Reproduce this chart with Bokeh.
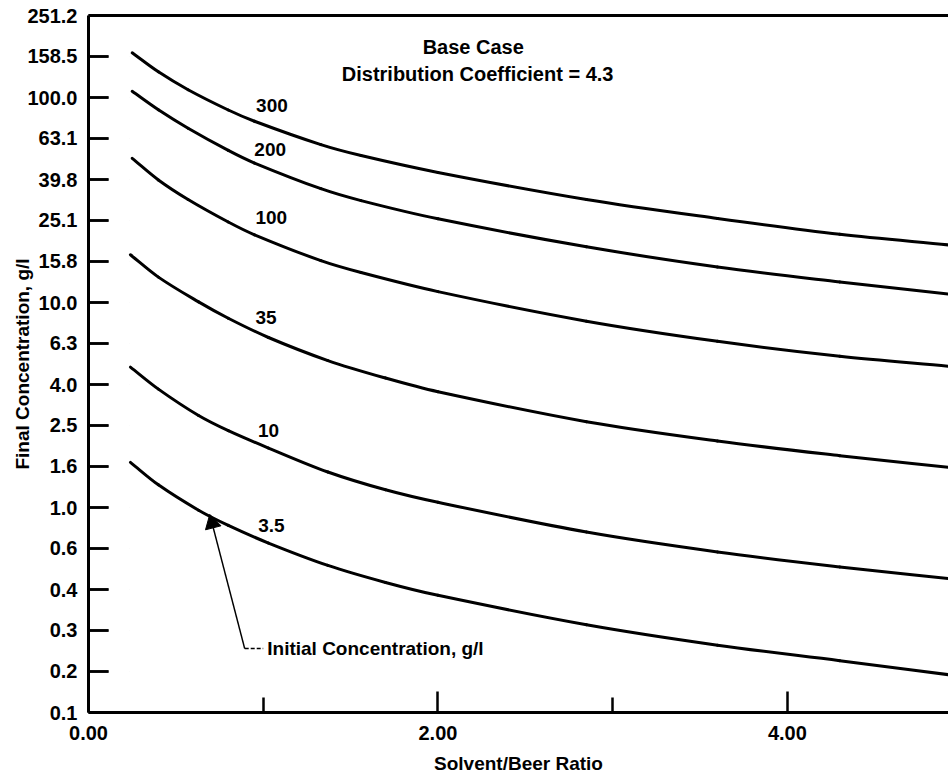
from bokeh.plotting import figure
from bokeh.models import (FixedTicker, LinearAxis, Label, Range1d, ColumnDataSource)
from bokeh.core.properties import value
from bokeh.embed import file_html
from bokeh.resources import INLINE
import math

# ---- data ----
ratio_upper = [0.25, 0.4, 0.57, 0.8, 0.95, 1.33, 1.56, 2.0, 2.85, 3.6, 4.3, 4.92]
conc_300 = [165.2, 133.4, 109.1, 86.9, 76.6, 58.9, 52.1, 43.1, 31.8, 25.7, 21.5, 19.1]
conc_200 = [107.2, 87.1, 70.8, 55.2, 47.9, 35.9, 31.4, 25.6, 18.7, 14.9, 12.6, 11.0]
conc_100 = [50.5, 39.6, 31.8, 24.7, 21.4, 16.0, 14.0, 11.3, 8.11, 6.47, 5.47, 4.89]

ratio_lower = [0.24, 0.4, 0.63, 0.8, 1.03, 1.37, 1.7, 2.0, 2.85, 3.6, 4.3, 4.92]
conc_35 = [17.1, 13.3, 10.07, 8.38, 6.75, 5.21, 4.28, 3.67, 2.62, 2.11, 1.79, 1.57]
conc_10 = [4.84, 3.78, 2.81, 2.37, 1.95, 1.49, 1.22, 1.06, 0.759, 0.607, 0.513, 0.450]
conc_3_5 = [1.66, 1.29, 0.970, 0.818, 0.671, 0.522, 0.431, 0.373, 0.268, 0.213, 0.179, 0.153]

curve_names = ["300", "200", "100", "35", "10", "3.5"]
label_x = [1.05, 1.04, 1.046, 1.016, 1.03, 1.047]
label_y = [91.9, 55.8, 26.0, 8.48, 2.38, 0.82]

y_tick_values = [0.1, 0.1585, 0.2512, 0.3981, 0.631, 1.0, 1.585, 2.512, 3.981,
                 6.31, 10.0, 15.85, 25.12, 39.81, 63.1, 100.0, 158.5, 251.2]
y_tick_labels = ["0.1", "0.2", "0.3", "0.4", "0.6", "1.0", "1.6", "2.5", "4.0",
                 "6.3", "10.0", "15.8", "25.1", "39.8", "63.1", "100.0", "158.5", "251.2"]
x_major_ticks = [0, 2, 4]
x_minor_ticks = [1, 3]
x_tick_labels = ["0.00", "2.00", "4.00"]

arrow_tail = (0.894, 0.205)
arrow_tip = (0.697, 0.905)

FONT = "Liberation Sans"
FS = "19px"
X_END = 4.922
PX_PER_X = 860 / X_END
PX_PER_DECADE = 699 / math.log10(251.2 / 0.1)

p = figure(width=948, height=776, y_axis_type="log",
           x_range=Range1d(0, X_END), y_range=Range1d(0.1, 251.2),
           output_backend="svg", toolbar_location=None,
           min_border_left=88, min_border_right=0, min_border_top=15,
           min_border_bottom=62)
p.outline_line_color = None
p.grid.visible = False
p.background_fill_color = "white"
p.border_fill_color = "white"

# inward y tick marks: a longer black stroke, whose outer part is masked in white
n_ticks = len(y_tick_values)
tick_len = 20 / PX_PER_X
mask_end = 0.232
p.segment(x0=[0.0] * n_ticks, y0=y_tick_values, x1=[mask_end] * n_ticks,
          y1=y_tick_values, line_color="black", line_width=2.5, line_cap="butt")
p.segment(x0=[tick_len] * n_ticks, y0=y_tick_values, x1=[mask_end + 0.003] * n_ticks,
          y1=y_tick_values, line_color="white", line_width=4.5, line_cap="butt")


def smooth_curve(xs, ys):
    """Draw a smooth curve through the read points as cubic Bezier pieces
    (Hermite tangents in x / log10(y) space, mapped by Bokeh's scales)."""
    ly = [math.log10(v) for v in ys]
    n = len(xs)
    slopes = []
    for i in range(n):
        a = max(i - 1, 0)
        b = min(i + 1, n - 1)
        slopes.append((ly[b] - ly[a]) / (xs[b] - xs[a]))
    d = dict(x0=[], y0=[], x1=[], y1=[], cx0=[], cy0=[], cx1=[], cy1=[])
    for i in range(n - 1):
        dx = xs[i + 1] - xs[i]
        d["x0"].append(xs[i]); d["y0"].append(ys[i])
        d["x1"].append(xs[i + 1]); d["y1"].append(ys[i + 1])
        d["cx0"].append(xs[i] + dx / 3)
        d["cy0"].append(10 ** (ly[i] + slopes[i] * dx / 3))
        d["cx1"].append(xs[i + 1] - dx / 3)
        d["cy1"].append(10 ** (ly[i + 1] - slopes[i + 1] * dx / 3))
    p.bezier(source=ColumnDataSource(d), x0="x0", y0="y0", x1="x1", y1="y1",
             cx0="cx0", cy0="cy0", cx1="cx1", cy1="cy1",
             line_color="black", line_width=3, line_cap="round")


series = [(ratio_upper, conc_300), (ratio_upper, conc_200), (ratio_upper, conc_100),
          (ratio_lower, conc_35), (ratio_lower, conc_10), (ratio_lower, conc_3_5)]
for xs, ys in series:
    smooth_curve(xs, ys)

src = ColumnDataSource(dict(x=label_x, y=label_y, t=curve_names))
p.text(x="x", y="y", text="t", source=src, text_font=value(FONT),
       text_font_size=FS, text_font_style="bold", text_align="center",
       text_baseline="middle", text_color="black")

xa = p.xaxis[0]
xa.ticker = FixedTicker(ticks=x_major_ticks, minor_ticks=x_minor_ticks)
xa.major_label_overrides = {t: l for t, l in zip(x_major_ticks, x_tick_labels)}
ya = p.yaxis[0]
ya.ticker = FixedTicker(ticks=y_tick_values, minor_ticks=[])
ya.major_label_overrides = {t: l for t, l in zip(y_tick_values, y_tick_labels)}

for ax in (xa, ya):
    ax.axis_line_width = 3
    ax.axis_line_color = "black"
    ax.major_tick_line_width = 2.5
    ax.major_tick_line_color = "black"
    ax.minor_tick_line_width = 2.5
    ax.minor_tick_line_color = "black"
    ax.major_tick_out = 0
    ax.minor_tick_out = 0
    ax.major_label_text_font = FONT
    ax.major_label_text_font_size = "20px"
    ax.major_label_text_font_style = "bold"
    ax.major_label_text_color = "black"
    ax.axis_label_text_font = FONT
    ax.axis_label_text_font_size = FS
    ax.axis_label_text_font_style = "bold"
    ax.axis_label_text_color = "black"

xa.major_tick_in = 21
xa.minor_tick_in = 15
xa.major_label_standoff = 13
xa.axis_label_standoff = 10
xa.axis_label = "Solvent/Beer Ratio"

ya.major_tick_in = 20
ya.minor_tick_in = 0
ya.major_label_standoff = 11
ya.axis_label_standoff = -9
ya.axis_label = "Final Concentration, g/l"

top = LinearAxis(ticker=FixedTicker(ticks=[]), axis_line_width=3,
                 axis_line_color="black", major_tick_in=0, major_tick_out=0,
                 minor_tick_in=0, minor_tick_out=0, major_label_standoff=0,
                 major_label_text_font_size="0px")
p.add_layout(top, "above")

p.add_layout(Label(x=2.202, y=176, text="Base Case", text_font=FONT,
                   text_font_size="20px", text_font_style="bold", text_align="center",
                   text_baseline="middle", text_color="black"))
p.add_layout(Label(x=2.227, y=129.7, text="Distribution Coefficient = 4.3",
                   text_font=FONT, text_font_size="20px", text_font_style="bold",
                   text_align="center", text_baseline="middle", text_color="black"))

# annotation pointer: shaft + triangular head
p.segment(x0=[arrow_tail[0]], y0=[arrow_tail[1]], x1=[arrow_tip[0]], y1=[arrow_tip[1]],
          line_color="black", line_width=1.5)
dx_px = (arrow_tip[0] - arrow_tail[0]) * PX_PER_X
dy_px = math.log10(arrow_tip[1] / arrow_tail[1]) * PX_PER_DECADE
length = math.hypot(dx_px, dy_px)
ux, uy = dx_px / length, dy_px / length
head = 16
back = head * 0.45
head_x = arrow_tip[0] - ux * back / PX_PER_X
head_y = arrow_tip[1] / 10 ** (uy * back / PX_PER_DECADE)
head_angle = math.atan2(uy, ux) - math.pi / 2
p.scatter(x=[head_x], y=[head_y], marker="triangle", size=head, angle=head_angle,
          fill_color="black", line_color="black")

p.segment(x0=[arrow_tail[0]], y0=[arrow_tail[1]], x1=[1.0], y1=[arrow_tail[1]],
          line_color="black", line_width=1.5, line_dash="4 2")
p.add_layout(Label(x=1.023, y=0.205, text="Initial Concentration, g/l",
                   text_font=FONT, text_font_size=FS, text_font_style="bold",
                   text_align="left", text_baseline="middle", text_color="black"))

open("out.html", "w").write(file_html(p, INLINE))
